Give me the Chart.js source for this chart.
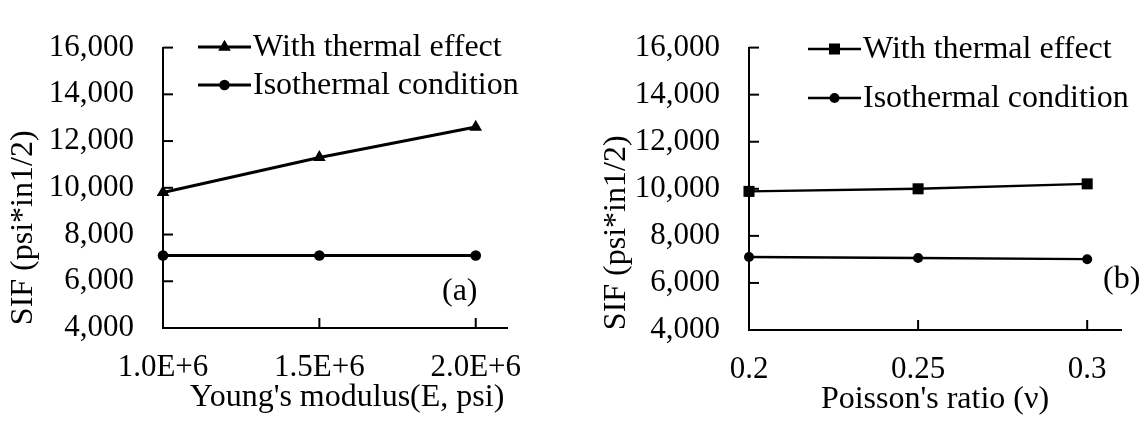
<!DOCTYPE html>
<html>
<head>
<meta charset="utf-8">
<script src="https://cdn.jsdelivr.net/npm/chart.js@4.4.0/dist/chart.umd.min.js"></script>
<style>
  body { margin: 0; background: #fff; }
  .wrap { position: absolute; top: 0; width: 573px; height: 424px; }
</style>
</head>
<body>
<div class="wrap" style="left:0"><canvas id="chartA" width="573" height="424"></canvas></div>
<div class="wrap" style="left:573px"><canvas id="chartB" width="573" height="424"></canvas></div>
<script>
// (a) SIF vs Young's modulus
var youngsModulus = [1.0e6, 1.5e6, 2.0e6]
var youngsTickLabels = ['1.0E+6', '1.5E+6', '2.0E+6']
var sifThermalE = [9800, 11300, 12600]
var sifIsoE = [7100, 7100, 7100]

// (b) SIF vs Poisson's ratio
var poissonRatio = [0.2, 0.25, 0.3]
var poissonTickLabels = ['0.2', '0.25', '0.3']
var sifThermalNu = [9890, 10000, 10210]
var sifIsoNu = [7100, 7060, 7010]

var seriesNames = ['With thermal effect', 'Isothermal condition']

var serif = "'Liberation Serif', 'Times New Roman', serif"
Chart.defaults.font.family = serif
Chart.defaults.font.size = 31
Chart.defaults.color = '#000'

function pts(xs, ys) {
    return xs.map(function (x, i) { return { x: x, y: ys[i] } })
}

function drawMarker(ctx, style, r, x, y) {
    ctx.fillStyle = '#000'
    ctx.beginPath()
    if (style === 'triangle') {
        ctx.moveTo(x, y - r)
        ctx.lineTo(x + r * 0.866, y + r * 0.5)
        ctx.lineTo(x - r * 0.866, y + r * 0.5)
        ctx.closePath()
    } else if (style === 'rect') {
        var s = r * Math.SQRT1_2
        ctx.rect(x - s, y - s, 2 * s, 2 * s)
    } else {
        ctx.arc(x, y, r, 0, Math.PI * 2)
    }
    ctx.fill()
}

// inward tick marks, legend inside the plot and the panel letter
var extras = {
    id: 'extras',
    afterDraw: function (chart, args, opts) {
        var ctx = chart.ctx
        var xs = chart.scales.x, ys = chart.scales.y
        var area = chart.chartArea
        ctx.save()
        ctx.strokeStyle = '#000'
        ctx.lineWidth = 2
        xs.ticks.forEach(function (t) {
            var px = xs.getPixelForValue(t.value)
            ctx.beginPath(); ctx.moveTo(px, area.bottom); ctx.lineTo(px, area.bottom - 10); ctx.stroke()
        })
        ys.ticks.forEach(function (t) {
            var py = ys.getPixelForValue(t.value)
            ctx.beginPath(); ctx.moveTo(area.left, py); ctx.lineTo(area.left + 10, py); ctx.stroke()
        })
        ctx.font = '32px ' + serif
        ctx.textBaseline = 'middle'
        ctx.textAlign = 'left'
        chart.data.datasets.forEach(function (ds, i) {
            var y = opts.legendY[i]
            ctx.lineWidth = ds.borderWidth
            ctx.beginPath(); ctx.moveTo(opts.legendX0, y); ctx.lineTo(opts.legendX1, y); ctx.stroke()
            drawMarker(ctx, ds.pointStyle, ds.pointRadius, (opts.legendX0 + opts.legendX1) / 2, y)
            ctx.fillStyle = '#000'
            ctx.fillText(ds.label, opts.legendX1 + 2, y + 1)
        })
        ctx.font = '32px ' + serif
        ctx.fillText(opts.panel, opts.panelX, opts.panelY)
        ctx.restore()
    }
}

function makeChart(id, cfg) {
    var ctx = document.getElementById(id)
    return new Chart(ctx, {
        type: 'line',
        data: {
            datasets: [{
                label: seriesNames[0],
                data: pts(cfg.xs, cfg.thermal),
                borderColor: '#000',
                backgroundColor: '#000',
                borderWidth: cfg.lineWidth,
                pointStyle: cfg.marker,
                pointRadius: cfg.markerR,
                pointBorderWidth: 0,
                fill: false,
                clip: false
            }, {
                label: seriesNames[1],
                data: pts(cfg.xs, cfg.iso),
                borderColor: '#000',
                backgroundColor: '#000',
                borderWidth: cfg.lineWidth,
                pointStyle: 'circle',
                pointRadius: cfg.circleR,
                pointBorderWidth: 0,
                fill: false,
                clip: false
            }]
        },
        options: {
            responsive: false,
            animation: false,
            devicePixelRatio: 1,
            layout: { padding: { left: 0, top: cfg.top, right: cfg.right, bottom: 0 } },
            plugins: {
                legend: { display: false },
                tooltip: { enabled: false },
                extras: cfg.extras
            },
            scales: {
                x: {
                    type: 'linear',
                    min: cfg.xs[0],
                    max: cfg.xMax,
                    afterBuildTicks: function (scale) {
                        scale.ticks = cfg.xs.map(function (v) { return { value: v } })
                    },
                    afterFit: function (scale) { scale.height = cfg.xHeight },
                    ticks: {
                        padding: 21,
                        maxRotation: 0,
                        autoSkip: false,
                        callback: function (v, i) { return cfg.tickLabels[i] }
                    },
                    grid: { drawOnChartArea: false, drawTicks: false },
                    border: { color: '#000', width: 2 },
                    title: { display: true, text: cfg.xTitle, font: { size: 32 }, padding: { top: 0, bottom: cfg.xTitleGap } }
                },
                y: {
                    min: 4000,
                    max: 16000,
                    ticks: { stepSize: 2000, padding: 29 },
                    afterFit: function (scale) { scale.width = cfg.yWidth },
                    grid: { drawOnChartArea: false, drawTicks: false },
                    border: { color: '#000', width: 2 },
                    title: { display: true, text: 'SIF (psi*in1/2)' + cfg.yTitlePad, font: { size: 32 }, padding: { top: cfg.yTitleGap, bottom: 0 } }
                }
            }
        },
        plugins: [extras]
    })
}

makeChart('chartA', {
    xs: youngsModulus, thermal: sifThermalE, iso: sifIsoE, tickLabels: youngsTickLabels,
    xMax: 2.1e6, xTitle: "   Young's modulus(E, psi)", xTitleGap: 7,
    top: 22, right: 66, yWidth: 163, xHeight: 96,
    yTitlePad: '          ', yTitleGap: 4,
    lineWidth: 3, marker: 'triangle', markerR: 7.3, circleR: 5.3,
    extras: { legendX0: 198, legendX1: 251, legendY: [47, 85], panel: '(a)', panelX: 442, panelY: 292 }
})

makeChart('chartB', {
    xs: poissonRatio, thermal: sifThermalNu, iso: sifIsoNu, tickLabels: poissonTickLabels,
    xMax: 0.31, xTitle: "Poisson's ratio (\u03bd)", xTitleGap: 5,
    top: 31, right: 25, yWidth: 176, xHeight: 94,
    yTitlePad: '           ', yTitleGap: 24,
    lineWidth: 2.4, marker: 'rect', markerR: 7.8, circleR: 5,
    extras: { legendX0: 235, legendX1: 288, legendY: [49, 98], panel: '(b)', panelX: 530, panelY: 280 }
})
</script>
</body>
</html>
